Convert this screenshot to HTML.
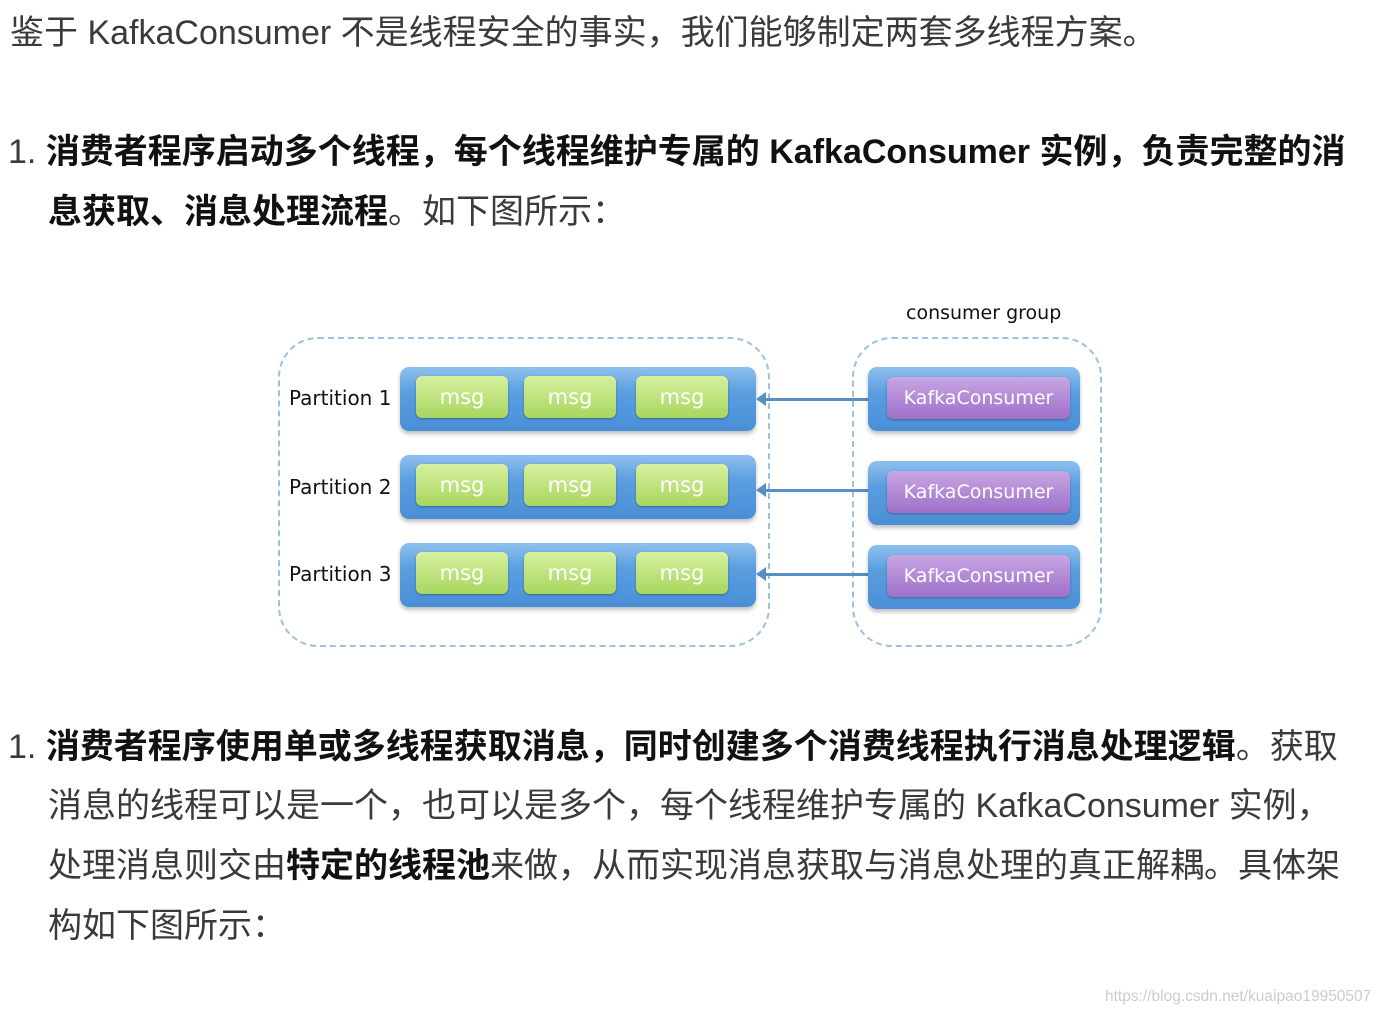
<!DOCTYPE html>
<html><head><meta charset="utf-8"><style>
body{margin:0;width:1388px;height:1016px;background:#fff;position:relative;overflow:hidden;font-family:"Liberation Sans","Noto Sans CJK SC",sans-serif;color:#3a3a3a;}
.l{position:absolute;white-space:nowrap;font-size:34px;line-height:40px;}
b{color:#111;font-weight:bold;}
.d{position:absolute;}
.bar{position:absolute;border-radius:9px;background:linear-gradient(#8ec0ee,#5a9ee0 40%,#4a8fd6);box-shadow:0 3px 4px rgba(0,0,0,.25);}
.msg{position:absolute;width:92px;height:42px;top:9px;border-radius:6px;background:linear-gradient(#d6f0a0,#a9d65e);box-shadow:0 1px 2px rgba(0,0,0,.3);color:#fff;font-size:21px;line-height:42px;text-align:center;font-family:"DejaVu Sans",sans-serif;}
.kc{position:absolute;left:19px;top:10px;width:183px;height:42px;border-radius:6px;background:linear-gradient(#c9a6e4,#9f70c8);box-shadow:0 1px 2px rgba(0,0,0,.3);color:#fff;font-size:19px;line-height:42px;text-align:center;font-family:"DejaVu Sans",sans-serif;}
.pl{position:absolute;left:289px;font-size:20px;color:#111;font-family:"DejaVu Sans",sans-serif;}
.arr{position:absolute;left:758px;width:110px;height:3px;background:#5a8fc6;}
.arr:before{content:"";position:absolute;left:-2px;top:-6px;border-right:10px solid #5a8fc6;border-top:7px solid transparent;border-bottom:7px solid transparent;}
</style></head><body>
<div class="l" style="left:10px;top:13px">鉴于 KafkaConsumer 不是线程安全的事实，我们能够制定两套多线程方案。</div>
<div class="l" style="left:8px;top:132px">1. <b>消费者程序启动多个线程，每个线程维护专属的 KafkaConsumer 实例，负责完整的消</b></div>
<div class="l" style="left:48px;top:192px"><b>息获取、消息处理流程</b>。如下图所示：</div>

<div class="d" style="left:278px;top:337px;width:488px;height:306px;border:2px dashed #9cc0e0;border-radius:40px;"></div>
<div class="d" style="left:852px;top:337px;width:246px;height:306px;border:2px dashed #9cc0e0;border-radius:40px;"></div>
<div class="d" style="left:906px;top:302px;font-size:19px;color:#111;font-family:'DejaVu Sans',sans-serif;">consumer group</div>

<div class="pl" style="top:386px">Partition 1</div>
<div class="pl" style="top:475px">Partition 2</div>
<div class="pl" style="top:562px">Partition 3</div>

<div class="bar" style="left:400px;top:367px;width:356px;height:64px"><div class="msg" style="left:16px">msg</div><div class="msg" style="left:124px">msg</div><div class="msg" style="left:236px">msg</div></div>
<div class="bar" style="left:400px;top:455px;width:356px;height:64px"><div class="msg" style="left:16px">msg</div><div class="msg" style="left:124px">msg</div><div class="msg" style="left:236px">msg</div></div>
<div class="bar" style="left:400px;top:543px;width:356px;height:64px"><div class="msg" style="left:16px">msg</div><div class="msg" style="left:124px">msg</div><div class="msg" style="left:236px">msg</div></div>

<div class="arr" style="top:398px"></div>
<div class="arr" style="top:489px"></div>
<div class="arr" style="top:573px"></div>

<div class="bar" style="left:868px;top:367px;width:212px;height:64px"><div class="kc">KafkaConsumer</div></div>
<div class="bar" style="left:868px;top:461px;width:212px;height:64px"><div class="kc">KafkaConsumer</div></div>
<div class="bar" style="left:868px;top:545px;width:212px;height:64px"><div class="kc">KafkaConsumer</div></div>

<div class="l" style="left:8px;top:727px">1. <b>消费者程序使用单或多线程获取消息，同时创建多个消费线程执行消息处理逻辑</b>。获取</div>
<div class="l" style="left:48px;top:786px">消息的线程可以是一个，也可以是多个，每个线程维护专属的 KafkaConsumer 实例，</div>
<div class="l" style="left:48px;top:846px">处理消息则交由<b>特定的线程池</b>来做，从而实现消息获取与消息处理的真正解耦。具体架</div>
<div class="l" style="left:48px;top:906px">构如下图所示：</div>
<div class="d" style="left:1105px;top:988px;font-size:15.5px;color:#ccc;">https://blog.csdn.net/kuaipao19950507</div>
</body></html>
